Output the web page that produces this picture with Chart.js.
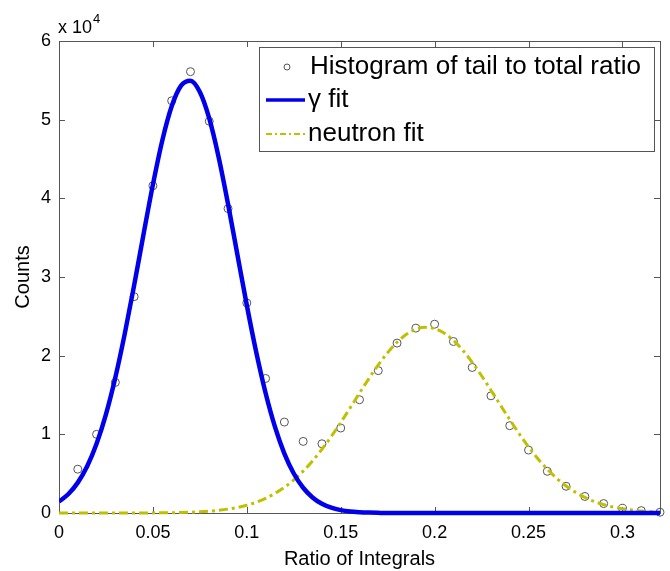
<!DOCTYPE html>
<html>
<head>
<meta charset="utf-8">
<script src="https://cdn.jsdelivr.net/npm/chart.js@4/dist/chart.umd.min.js"></script>
<style>
  html, body { margin: 0; padding: 0; background: #fff; }
  #wrap { width: 670px; height: 571px; position: relative; }
</style>
</head>
<body>
<div id="wrap"><canvas id="c" width="670" height="571"></canvas></div>
<script>
// ---- Data ----
const histX = [0.01,0.02,0.03,0.04,0.05,0.06,0.07,0.08,0.09,0.10,0.11,0.12,0.13,0.14,0.15,0.16,
               0.17,0.18,0.19,0.20,0.21,0.22,0.23,0.24,0.25,0.26,0.27,0.28,0.29,0.30,0.31,0.32];
const histCounts = [5570,10000,16600,27500,41600,52400,56100,49800,38700,26700,17100,11560,9100,8800,10800,14400,
                    18100,21600,23500,24000,21800,18500,14900,11100,8000,5300,3400,2100,1200,600,300,100];

const fitX = [0,0.005,0.01,0.015,0.02,0.025,0.03,0.035,0.04,0.045,0.05,0.055,0.06,0.065,0.07,0.075,
              0.08,0.085,0.09,0.095,0.10,0.105,0.11,0.115,0.12,0.125,0.13,0.135,0.14,0.145,0.15,0.155,
              0.16,0.165,0.17,0.175,0.18,0.185,0.19,0.195,0.20,0.205,0.21,0.215,0.22,0.225,0.23,0.235,
              0.24,0.245,0.25,0.255,0.26,0.265,0.27,0.275,0.28,0.285,0.29,0.295,0.30,0.305,0.31,0.315,0.32];
const gammaFit = [1450,2410,3860,5940,8800,12540,17220,22770,28930,35420,41740,47360,51700,54330,54960,53510,
                  50150,45230,39280,32830,26410,20460,15250,10940,7550,5020,3210,1980,1170,670,370,190,
                  100,50,20,0,0,0,0,0,0,0,0,0,0,0,0,0,
                  0,0,0,0,0,0,0,0,0,0,0,0,0,0,0,0,0];
const neutronFit = [0,0,0,0,0,0,0,0,0,0,15,25,40,64,100,150,
                    230,340,495,708,994,1370,1865,2490,3260,4200,5320,6620,8100,9740,11500,13350,
                    15240,17090,18830,20390,21710,22710,23350,23600,23430,22870,21940,20680,19160,17450,15610,13730,
                    11870,10080,8420,6900,5570,4410,3440,2630,1980,1460,1060,760,530,370,250,165,110];

const xTickValues = [0,0.05,0.1,0.15,0.2,0.25,0.3];
const yTickValues = [0,10000,20000,30000,40000,50000,60000];
const seriesNames = ['Histogram of tail to total ratio', '\u03B3 fit', 'neutron fit'];
const xTitle = 'Ratio of Integrals';
const yTitle = 'Counts';

// ---- Build datasets ----
const pts = (xs, ys) => xs.map((x, i) => ({ x: x, y: ys[i] }));

const FONT = "'Liberation Sans', Arial, sans-serif";
const AXIS_COLOR = '#555';
const BLUE = 'rgb(0,0,235)';
const YELLOW = 'rgb(192,192,0)';

const decor = {
  id: 'decor',
  beforeDatasetsDraw(chart) {
    const ctx = chart.ctx, a = chart.chartArea;
    const xs = chart.scales.x, ys = chart.scales.y;
    ctx.save();
    ctx.strokeStyle = AXIS_COLOR;
    ctx.lineWidth = 1;
    ctx.strokeRect(Math.round(a.left) + 0.5, Math.round(a.top) + 0.5,
                   Math.round(a.right - a.left), Math.round(a.bottom - a.top));
    const L = 6;
    ctx.beginPath();
    xs.ticks.forEach(t => {
      const px = Math.round(xs.getPixelForValue(t.value)) + 0.5;
      ctx.moveTo(px, a.bottom); ctx.lineTo(px, a.bottom - L);
      ctx.moveTo(px, a.top); ctx.lineTo(px, a.top + L);
    });
    ys.ticks.forEach(t => {
      const py = Math.round(ys.getPixelForValue(t.value)) + 0.5;
      ctx.moveTo(a.left, py); ctx.lineTo(a.left + L, py);
      ctx.moveTo(a.right, py); ctx.lineTo(a.right - L, py);
    });
    ctx.stroke();
    // exponent label
    ctx.fillStyle = '#000';
    ctx.textBaseline = 'alphabetic';
    ctx.textAlign = 'left';
    ctx.font = '18px ' + FONT;
    ctx.fillText('x 10', a.left - 1, a.top - 8);
    const w = ctx.measureText('x 10').width;
    ctx.font = '13px ' + FONT;
    ctx.fillText('4', a.left - 1 + w + 1, a.top - 18);
    ctx.restore();
  },
  afterDraw(chart) {
    const ctx = chart.ctx;
    const bx = 259, by = 47, bw = 395, bh = 104;
    ctx.save();
    ctx.fillStyle = '#fff';
    ctx.fillRect(bx, by, bw, bh);
    ctx.strokeStyle = AXIS_COLOR;
    ctx.lineWidth = 1;
    ctx.strokeRect(bx + 0.5, by + 0.5, bw, bh);
    const rows = [67, 100, 134];
    // marker
    ctx.beginPath();
    ctx.arc(287, rows[0], 3, 0, Math.PI * 2);
    ctx.strokeStyle = AXIS_COLOR;
    ctx.stroke();
    // gamma line
    ctx.beginPath();
    ctx.strokeStyle = BLUE; ctx.lineWidth = 3.5;
    ctx.moveTo(266, rows[1]); ctx.lineTo(305, rows[1]); ctx.stroke();
    // neutron line
    ctx.beginPath();
    ctx.strokeStyle = YELLOW; ctx.lineWidth = 2;
    ctx.setLineDash([6, 3, 2, 3]);
    ctx.moveTo(266, rows[2]); ctx.lineTo(305, rows[2]); ctx.stroke();
    ctx.setLineDash([]);
    ctx.fillStyle = '#000';
    ctx.font = '26px ' + FONT;
    ctx.textBaseline = 'middle';
    ctx.textAlign = 'left';
    ctx.fillText(seriesNames[0], 310, rows[0]);
    ctx.fillText(seriesNames[1], 308, rows[1]);
    ctx.fillText(seriesNames[2], 308, rows[2]);
    ctx.restore();
  }
};

new Chart(document.getElementById('c'), {
  type: 'line',
  data: {
    datasets: [
      {
        label: seriesNames[1],
        data: pts(fitX, gammaFit),
        borderColor: BLUE,
        borderWidth: 4.5,
        pointRadius: 0,
        cubicInterpolationMode: 'monotone',
        fill: false,
        clip: { left: 0, top: 0, right: 4, bottom: 4 }
      },
      {
        label: seriesNames[2],
        data: pts(fitX, neutronFit),
        borderColor: YELLOW,
        borderWidth: 3,
        borderDash: [9, 4, 3, 4],
        pointRadius: 0,
        cubicInterpolationMode: 'monotone',
        fill: false,
        clip: { left: 0, top: 0, right: 4, bottom: 4 }
      },
      {
        label: seriesNames[0],
        data: pts(histX, histCounts),
        showLine: false,
        pointStyle: 'circle',
        pointRadius: 4,
        pointBorderWidth: 1,
        pointBorderColor: '#555',
        pointBackgroundColor: 'rgba(0,0,0,0)',
        clip: false
      }
    ]
  },
  options: {
    responsive: false,
    animation: false,
    layout: { padding: { top: 41, right: 10, left: 0, bottom: 0 } },
    plugins: { legend: { display: false }, tooltip: { enabled: false } },
    scales: {
      x: {
        type: 'linear',
        min: 0, max: 0.32,
        afterFit(s) { s.height = 58; },
        afterBuildTicks(s) { s.ticks = xTickValues.map(v => ({ value: v })); },
        grid: { display: false, drawTicks: false },
        border: { display: false },
        ticks: {
          color: '#000', padding: 9,
          font: { family: FONT, size: 18 },
          maxRotation: 0, autoSkip: false,
          callback: v => String(Number(v.toFixed(2)))
        },
        title: { display: true, text: xTitle, color: '#000', font: { family: FONT, size: 20 }, padding: 0 }
      },
      y: {
        type: 'linear',
        min: 0, max: 60000,
        afterFit(s) { s.width = 59; },
        afterBuildTicks(s) { s.ticks = yTickValues.map(v => ({ value: v })); },
        grid: { display: false, drawTicks: false },
        border: { display: false },
        ticks: {
          color: '#000', padding: 8,
          font: { family: FONT, size: 18 },
          autoSkip: false,
          callback: v => String(v / 10000)
        },
        title: { display: true, text: yTitle, color: '#000', font: { family: FONT, size: 20 }, padding: { top: 11, bottom: 0 } }
      }
    }
  },
  plugins: [decor]
});
</script>
</body>
</html>
